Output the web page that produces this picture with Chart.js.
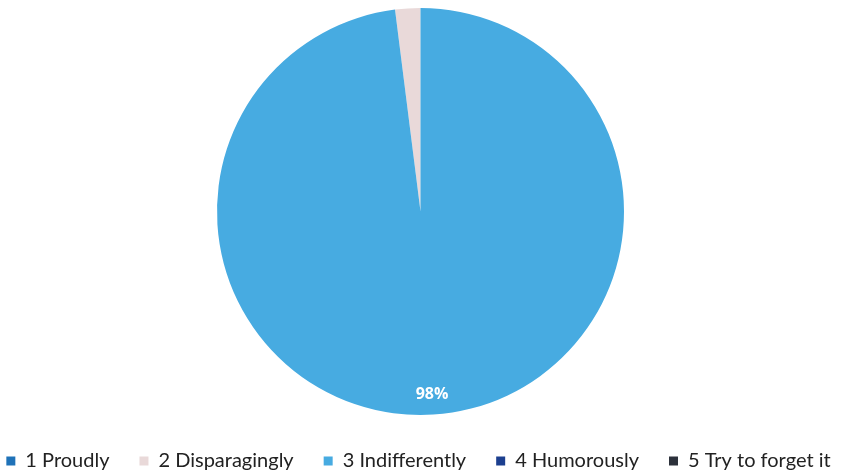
<!DOCTYPE html>
<html>
<head>
<meta charset="utf-8">
<script src="https://cdn.jsdelivr.net/npm/chart.js@4/dist/chart.umd.min.js"></script>
<style>
  html, body { margin: 0; padding: 0; background: #fff; }
  #wrap { width: 841px; height: 475px; }
</style>
</head>
<body>
<div id="wrap"><canvas id="pie_chart"></canvas></div>
<script>
const labels = ['1 Proudly', '2 Disparagingly', '3 Indifferently', '4 Humorously', '5 Try to forget it']
const values = [0, 2, 98, 0, 0]
const colors = ['#1f72b8', '#e9d9d9', '#47abe1', '#1c3f8f', '#2c313b']

// draws the percentage label inside the big slice, like the original
const pctLabels = {
  id: 'pctLabels',
  afterDatasetsDraw(chart) {
    const {ctx} = chart
    const meta = chart.getDatasetMeta(0)
    const total = values.reduce((a, b) => a + b, 0)
    meta.data.forEach((arc, i) => {
      const pct = Math.round(values[i] / total * 100)
      if (pct < 5) return
      const {startAngle, endAngle, outerRadius, x, y} = arc.getProps(['startAngle', 'endAngle', 'outerRadius', 'x', 'y'], true)
      const mid = (startAngle + endAngle) / 2
      const r = outerRadius * 0.9
      ctx.save()
      ctx.fillStyle = '#ffffff'
      ctx.font = 'bold 16px "Open Sans", sans-serif'
      ctx.textAlign = 'center'
      ctx.textBaseline = 'middle'
      ctx.fillText(pct + '%', x + Math.cos(mid) * r, y + Math.sin(mid) * r)
      ctx.restore()
    })
  }
}

// nudge the legend a bit lower, closer to the page bottom
const legendShift = {
  id: 'legendShift',
  afterLayout(chart) {
    chart.legend.top += 6
    chart.legend.bottom += 6
  }
}

new Chart(document.getElementById('pie_chart').getContext('2d'), {
  type: 'pie',
  data: {
    labels,
    datasets: [{
      data: values,
      backgroundColor: colors,
      borderWidth: 0
    }]
  },
  options: {
    responsive: true,
    maintainAspectRatio: false,
    animation: false,
    rotation: -7.2,
    // negative sides give the one-row legend enough room
    layout: {padding: {top: 8, right: -26, bottom: 0, left: -30}},
    plugins: {
      tooltip: {enabled: false},
      legend: {
        position: 'bottom',
        labels: {
          boxWidth: 9,
          boxHeight: 9,
          padding: 30,
          color: '#222',
          font: {family: 'Lato', size: 20}
        }
      }
    }
  },
  plugins: [pctLabels, legendShift]
})
</script>
</body>
</html>
